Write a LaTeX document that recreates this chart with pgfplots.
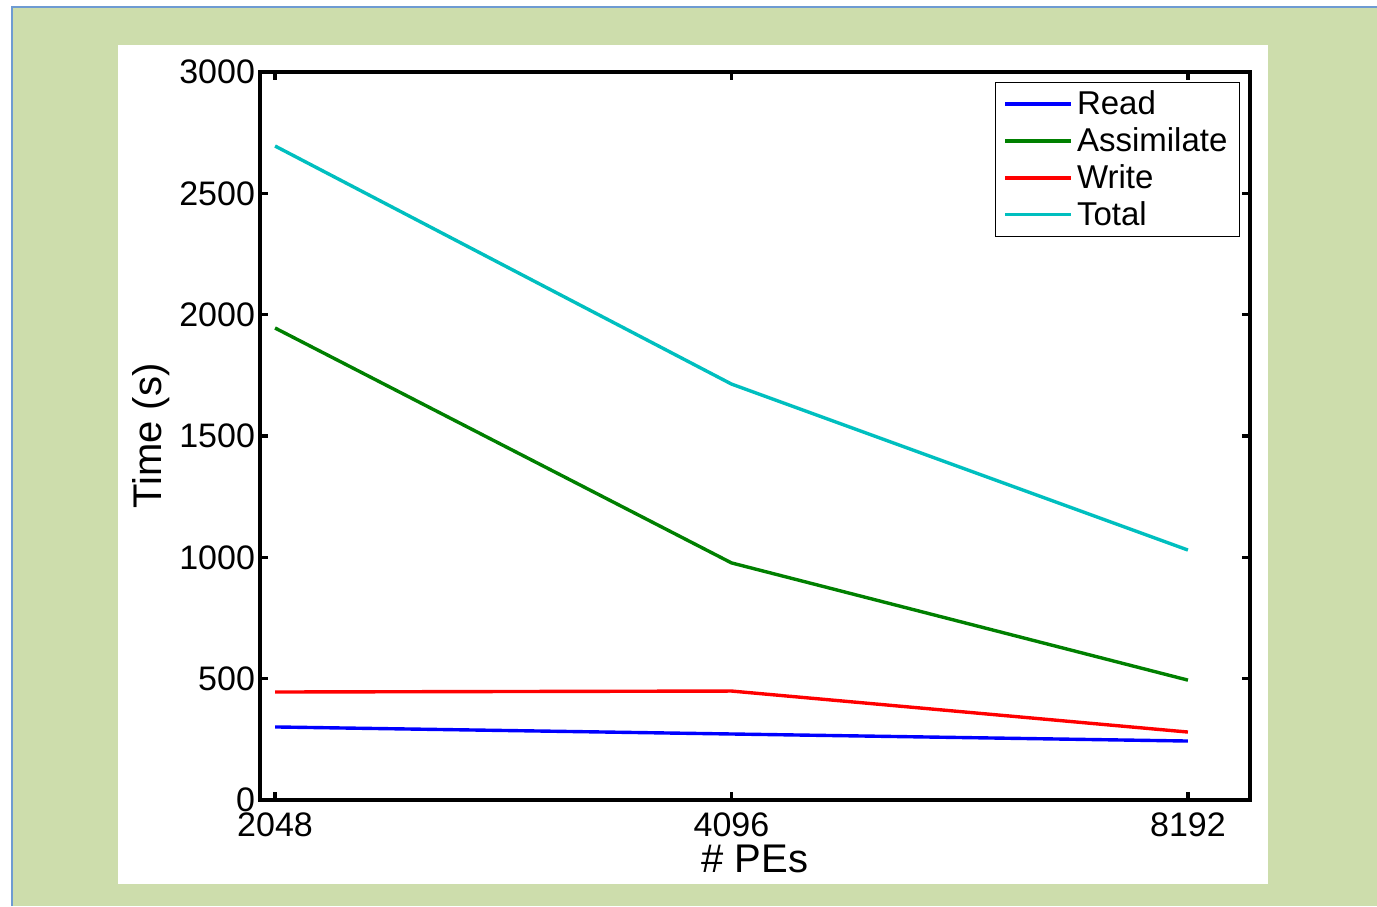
\documentclass[border=0pt]{standalone}
\usepackage{pgfplots}
\pgfplotsset{compat=1.18}
\usepackage{fontspec}
\setmainfont{Liberation Sans}
\definecolor{bggreen}{RGB}{205,221,172}
\definecolor{bordblue}{RGB}{110,155,210}
\definecolor{mcyan}{RGB}{0,191,191}
\definecolor{mgreen}{RGB}{0,128,0}
\begin{document}
\begin{tikzpicture}[x=1pt,y=1pt]
\useasboundingbox (0,0) rectangle (688.5,453);
\fill[white] (0,0) rectangle (688.5,453);
\fill[bggreen] (6,0) rectangle (688.5,449.5);
\draw[bordblue, line width=0.8pt] (6,0) -- (6,449.5) -- (688.5,449.5);
\fill[white] (59,11) rectangle (634,430.5);
\begin{axis}[
  at={(130pt,53pt)}, anchor=south west,
  scale only axis, width=495pt, height=364pt,
  xmin=-0.033, xmax=2.136, ymin=0, ymax=3000,
  xtick={0,1,2}, xticklabels={2048,4096,8192},
  ytick={0,500,1000,1500,2000,2500,3000},
  tick align=inside, major tick length=4pt,
  every tick/.style={black, line width=1.8pt},
  axis line style={line width=1.8pt},
  tick label style={font=\fontsize{17}{20}\selectfont},
  /pgf/number format/assume math mode=true,
  yticklabel style={/pgf/number format/1000 sep={}, xshift=1pt},
  xticklabel style={yshift=-3pt},
  xlabel={\# PEs}, ylabel={Time (s)},
  label style={font=\fontsize{20}{23}\selectfont},
  xlabel style={yshift=3pt},
  ylabel style={yshift=-2pt},
  legend style={at={(0.9899,0.9863)}, anchor=north east, draw=black, line width=0.6pt,
    font=\fontsize{16.5}{19}\selectfont, row sep=1pt, inner xsep=4pt, inner ysep=2pt},
  legend cell align=left,
  legend image code/.code={\draw[#1] (0,0) -- (33pt,0);},
]
\addplot[blue, line width=1.7pt] coordinates {(0,301) (1,272) (2,243)};
\addlegendentry{Read}
\addplot[mgreen, line width=1.7pt] coordinates {(0,1945) (1,977) (2,494)};
\addlegendentry{Assimilate}
\addplot[red, line width=1.7pt] coordinates {(0,445) (1,449) (2,280)};
\addlegendentry{Write}
\addplot[mcyan, line width=1.7pt] coordinates {(0,2695) (1,1714) (2,1030)};
\addlegendentry{Total}
\end{axis}
\end{tikzpicture}
\end{document}
